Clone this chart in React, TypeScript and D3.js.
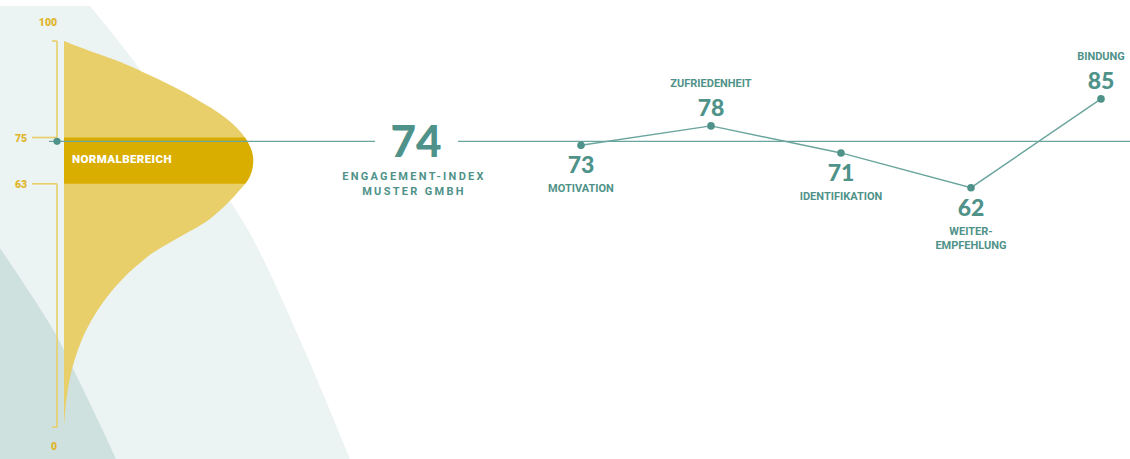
import React from "react";
import * as d3 from "d3";

// ---- data ----
const categories = ["MOTIVATION", "ZUFRIEDENHEIT", "IDENTIFIKATION", "WEITER-|EMPFEHLUNG", "BINDUNG"];
const scores = [73, 78, 71, 62, 85];
const indexValue = 74;
const indexLabel = ["ENGAGEMENT-INDEX", "MUSTER GMBH"];
const normalRange = [63, 75];
const normalLabel = "NORMALBEREICH";
const axisTicks = [0, 63, 75, 100];
// distribution of the benchmark (value -> relative density)
const densityValues = [100, 97.5, 95, 90, 85, 80, 75, 70, 65, 60, 55, 52.5, 50, 47.5, 45, 42.5, 40, 35, 30, 25, 20, 15, 10, 5, 0];
const densityWidths = [0, 25, 52, 95, 132, 162, 181, 189, 186, 171, 151, 138, 121, 104, 88, 76, 65, 47, 33, 22, 14, 8, 4, 1.5, 0];

const W = 1130;
const H = 459;
const TEAL = "#4f9289";
const LINE = "#6aa59d";
const GOLD = "#e0b52a";
const LIGHTY = "#e8cf6a";
const DARKY = "#d9ae00";
const FONT = "Roboto, 'Open Sans', sans-serif";

export default function App() {
  const y = d3.scaleLinear().domain([0, 100]).range([427, 41]);
  const xDen = d3.scaleLinear().domain([0, 189]).range([64, 253]);
  const xCat = d3.scalePoint<string>().domain(categories).range([581, 1101]);

  const dens = densityValues.map((v, i) => ({ v, w: densityWidths[i] }));
  const area = d3
    .area<{ v: number; w: number }>()
    .y((d) => y(d.v))
    .x0(xDen(0))
    .x1((d) => xDen(d.w))
    .curve(d3.curveCatmullRom.alpha(0.5));
  const areaPath = area(dens) || "";

  const pts = categories.map((c, i) => ({ c, v: scores[i], x: xCat(c)!, y: y(scores[i]) }));
  const line = d3
    .line<{ x: number; y: number }>()
    .x((d) => d.x)
    .y((d) => d.y);

  const bgLine = d3.line().curve(d3.curveCatmullRom.alpha(0.5));
  const lightBg =
    "M0,6 L90,6 " +
    (bgLine([
      [90, 6],
      [133, 60],
      [190, 143],
      [248, 230],
      [300, 340],
      [350, 459],
    ]) || "").replace(/^M[^CL]*/, "") +
    " L0,459 Z";
  const darkBg =
    "M0,248 " +
    (bgLine([
      [0, 248],
      [28, 290],
      [55, 333],
      [80, 383],
      [105, 435],
      [116, 459],
    ]) || "").replace(/^M[^CL]*/, "") +
    " L0,459 Z";

  const yIdx = y(indexValue);
  const bx = 57;

  return (
    <svg
      width={W}
      height={H}
      style={{ position: "absolute", left: 0, top: 0, background: "#fff" }}
      fontFamily={FONT}
    >
      <defs>
        <clipPath id="band">
          <rect x={0} y={y(normalRange[1])} width={400} height={y(normalRange[0]) - y(normalRange[1])} />
        </clipPath>
      </defs>
      <path d={lightBg} fill="#ecf3f3" />
      <path d={darkBg} fill="#cfe1df" />

      {/* distribution */}
      <path d={areaPath} fill={LIGHTY} />
      <path d={areaPath} fill={DARKY} clipPath="url(#band)" />
      <text
        x={72}
        y={163}
        fill="#fff"
        fontSize={11.5}
        fontWeight={900}
        letterSpacing={0.4}
      >
        {normalLabel}
      </text>

      {/* bracket axis */}
      <g stroke={LIGHTY} strokeWidth={1.6} fill="none">
        <line x1={bx} x2={bx} y1={y(100)} y2={y(75)} />
        <line x1={bx} x2={bx} y1={y(63)} y2={y(0)} />
        <line x1={52} x2={bx} y1={y(100)} y2={y(100)} />
        <line x1={52} x2={bx} y1={y(0)} y2={y(0)} />
        <line x1={32} x2={bx} y1={y(75)} y2={y(75)} />
        <line x1={32} x2={bx} y1={y(63)} y2={y(63)} />
      </g>
      {axisTicks.map((t) => {
        const pos =
          t === 100
            ? { x: 48, y: 26 }
            : t === 0
            ? { x: 54, y: 450 }
            : { x: 21, y: y(t) + 4 };
        return (
          <text key={t} x={pos.x} y={pos.y} textAnchor="middle" fill={GOLD} fontSize={10.5} fontWeight={900}>
            {t}
          </text>
        );
      })}

      {/* index line */}
      <line x1={49} x2={375} y1={yIdx} y2={yIdx} stroke={LINE} strokeWidth={1.1} />
      <line x1={458} x2={W} y1={yIdx} y2={yIdx} stroke={LINE} strokeWidth={1.1} />
      <circle cx={bx} cy={yIdx} r={3.6} fill={TEAL} />
      <text x={416} y={157} textAnchor="middle" fill={TEAL} fontSize={44} fontWeight={900} fontFamily="Lato, sans-serif">
        {indexValue}
      </text>
      {indexLabel.map((l, i) => (
        <text
          key={l}
          x={414}
          y={180 + i * 15}
          textAnchor="middle"
          fill={TEAL}
          fontSize={11}
          fontWeight={700}
          letterSpacing={2.3}
        >
          {l}
        </text>
      ))}

      {/* score line */}
      <path d={line(pts) || ""} fill="none" stroke={LINE} strokeWidth={1.4} />
      {pts.map((p) => {
        const above = p.v > indexValue;
        const lines = p.c.split("|");
        return (
          <g key={p.c}>
            <circle cx={p.x} cy={p.y} r={3.8} fill={TEAL} />
            <text
              x={p.x}
              y={above ? p.y - 10 : p.y + 28}
              textAnchor="middle"
              fill={TEAL}
              fontSize={23}
              fontWeight={900}
              fontFamily="Lato, sans-serif"
            >
              {p.v}
            </text>
            {lines.map((l, j) => (
              <text
                key={l}
                x={p.x}
                y={above ? p.y - 39 - (lines.length - 1 - j) * 14 : p.y + 47 + j * 14}
                textAnchor="middle"
                fill={TEAL}
                fontSize={11}
                fontWeight={700}
              >
                {l}
              </text>
            ))}
          </g>
        );
      })}
    </svg>
  );
}
